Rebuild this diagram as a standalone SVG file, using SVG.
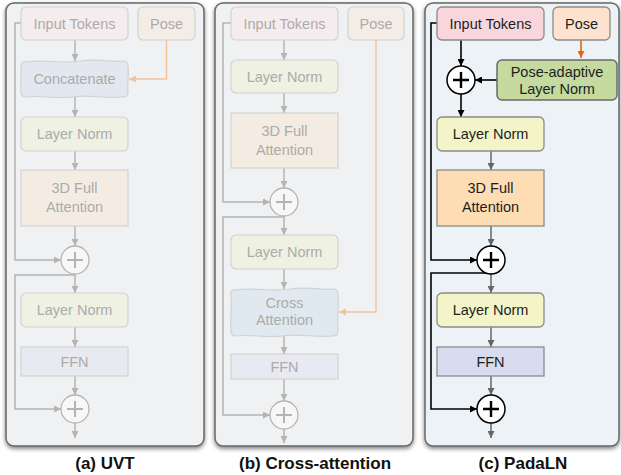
<svg xmlns="http://www.w3.org/2000/svg" width="621" height="475" viewBox="0 0 621 475">
  <defs>
    <filter id="shadow" x="-10%" y="-10%" width="120%" height="120%">
      <feDropShadow dx="0" dy="2" stdDeviation="2" flood-color="#000" flood-opacity="0.5"/>
    </filter>
    <marker id="ah-faded" viewBox="0 0 10 10" refX="10" refY="5" markerWidth="7" markerHeight="7" markerUnits="userSpaceOnUse" orient="auto">
      <path d="M0,0 L10,5 L0,10 z" fill="#b4b4b4"/>
    </marker>
    <marker id="ah-orange-faded" viewBox="0 0 10 10" refX="10" refY="5" markerWidth="7" markerHeight="7" markerUnits="userSpaceOnUse" orient="auto">
      <path d="M0,0 L10,5 L0,10 z" fill="#f3c49c"/>
    </marker>
    <marker id="ah-gray" viewBox="0 0 10 10" refX="10" refY="5" markerWidth="7" markerHeight="7" markerUnits="userSpaceOnUse" orient="auto">
      <path d="M0,0 L10,5 L0,10 z" fill="#666"/>
    </marker>
    <marker id="ah-black" viewBox="0 0 10 10" refX="10" refY="5" markerWidth="7" markerHeight="7" markerUnits="userSpaceOnUse" orient="auto">
      <path d="M0,0 L10,5 L0,10 z" fill="#000"/>
    </marker>
    <marker id="ah-orange" viewBox="0 0 10 10" refX="10" refY="5" markerWidth="7" markerHeight="7" markerUnits="userSpaceOnUse" orient="auto">
      <path d="M0,0 L10,5 L0,10 z" fill="#e0670f"/>
    </marker>
  </defs>
  <style>
    .panel { fill: #f0f1f3; stroke: #666; stroke-width: 1.5; }
    .panel-c { fill: #edf2f6; stroke: #666; stroke-width: 1.5; }
    text { font-family: "Liberation Sans", Arial, sans-serif; font-size: 14.5px; text-anchor: middle; }
    .tf { fill: #ababab; }
    .td { fill: #1e1e1e; }
    .cap { font-size: 17px; font-weight: bold; fill: #111; }
    .bf { stroke: #d2d2d2; stroke-width: 1.2; }
    .bd { stroke: #8a8a8a; stroke-width: 1.3; }
    .lf { fill: none; stroke: #b4b4b4; stroke-width: 1.5; }
    .lfo { fill: none; stroke: #f3c49c; stroke-width: 1.5; }
    .lg { fill: none; stroke: #666; stroke-width: 1.5; }
    .lb { fill: none; stroke: #000; stroke-width: 1.6; }
    .lo { fill: none; stroke: #e0670f; stroke-width: 1.6; }
    .pf circle { fill: #f7f7f7; stroke: #b4b4b4; stroke-width: 1.3; }
    .pf path { stroke: #b4b4b4; stroke-width: 2; fill: none; }
    .pd circle { fill: #fff; stroke: #000; stroke-width: 1.5; }
    .pd path { stroke: #000; stroke-width: 2.4; fill: none; }
  </style>

  <!-- panel frames -->
  <g id="panels">
    <rect class="panel" x="6" y="3" width="198" height="443" rx="8" filter="url(#shadow)"/>
    <rect class="panel" x="215" y="3" width="198" height="443" rx="8" filter="url(#shadow)"/>
    <rect class="panel-c" x="425" y="3" width="194" height="443" rx="8" filter="url(#shadow)"/>
  </g>

  <!-- connectors -->
  <g id="connectors">
    <!-- (a) -->
    <path class="lf" d="M75,40 V61" marker-end="url(#ah-faded)"/>
    <path class="lf" d="M75,97 V117" marker-end="url(#ah-faded)"/>
    <path class="lf" d="M75,151 V170" marker-end="url(#ah-faded)"/>
    <path class="lf" d="M75,226 V246" marker-end="url(#ah-faded)"/>
    <path class="lf" d="M75,274 V293" marker-end="url(#ah-faded)"/>
    <path class="lf" d="M75,327 V347" marker-end="url(#ah-faded)"/>
    <path class="lf" d="M75,376 V395" marker-end="url(#ah-faded)"/>
    <path class="lf" d="M75,423 V438" marker-end="url(#ah-faded)"/>
    <path class="lf" d="M21,23 H15 V260 H61" marker-end="url(#ah-faded)"/>
    <path class="lf" d="M75,275 H15 V409 H61" marker-end="url(#ah-faded)"/>
    <path class="lfo" d="M166.5,40 V79 H129" marker-end="url(#ah-orange-faded)"/>

    <!-- (b) -->
    <path class="lf" d="M284,40 V60" marker-end="url(#ah-faded)"/>
    <path class="lf" d="M284,93 V113" marker-end="url(#ah-faded)"/>
    <path class="lf" d="M284,168 V188" marker-end="url(#ah-faded)"/>
    <path class="lf" d="M284,216 V235" marker-end="url(#ah-faded)"/>
    <path class="lf" d="M284,269 V289" marker-end="url(#ah-faded)"/>
    <path class="lf" d="M284,336 V354" marker-end="url(#ah-faded)"/>
    <path class="lf" d="M284,379 V401" marker-end="url(#ah-faded)"/>
    <path class="lf" d="M284,429 V443" marker-end="url(#ah-faded)"/>
    <path class="lf" d="M231,23 H223 V202 H270" marker-end="url(#ah-faded)"/>
    <path class="lf" d="M284,217 H223 V415 H270" marker-end="url(#ah-faded)"/>
    <path class="lfo" d="M376,40 V312 H339" marker-end="url(#ah-orange-faded)"/>

    <!-- (c) -->
    <path class="lb" d="M461,40 V66" marker-end="url(#ah-black)"/>
    <path class="lb" d="M497,80 H475" marker-end="url(#ah-black)"/>
    <path class="lb" d="M461,94 V117" marker-end="url(#ah-black)"/>
    <path class="lg" d="M491,151 V170" marker-end="url(#ah-gray)"/>
    <path class="lg" d="M491,226 V246" marker-end="url(#ah-gray)"/>
    <path class="lg" d="M491,274 V293" marker-end="url(#ah-gray)"/>
    <path class="lg" d="M491,327 V347" marker-end="url(#ah-gray)"/>
    <path class="lg" d="M491,376 V395" marker-end="url(#ah-gray)"/>
    <path class="lg" d="M491,423 V438" marker-end="url(#ah-gray)"/>
    <path class="lb" d="M437,23 H431 V260 H477" marker-end="url(#ah-black)"/>
    <path class="lb" d="M491,273 H431 V409 H477" marker-end="url(#ah-black)"/>
    <path class="lo" d="M581,40 V58" marker-end="url(#ah-orange)"/>
  </g>

  <!-- (a) UVT -->
  <g id="a-input">
    <rect class="bf" x="21" y="7" width="107" height="33" rx="5" fill="#f5eded"/>
    <text class="tf" x="74.5" y="28.5">Input Tokens</text>
  </g>
  <g id="a-pose">
    <rect class="bf" x="138" y="7" width="57" height="33" rx="5" fill="#f3ede6"/>
    <text class="tf" x="166.5" y="28.5">Pose</text>
  </g>
  <g id="a-concat">
    <path class="bf" fill="#e3e7f0" d="M26,62 C45,59 60,64 80,61 C100,58 115,63 123,61 Q128,61 128,66 C129,75 127,85 128,92 Q128,97 123,97 C105,99 90,94 72,97 C55,99 40,95 26,97 Q21,97 21,92 C20,83 22,72 21,66 Q21,61 26,62 Z"/>
    <text class="tf" x="74.5" y="84">Concatenate</text>
  </g>
  <g id="a-ln1">
    <rect class="bf" x="21" y="117" width="107" height="34" rx="5" fill="#eff1e3"/>
    <text class="tf" x="74.5" y="139">Layer Norm</text>
  </g>
  <g id="a-attn">
    <rect class="bf" x="21" y="170" width="107" height="56" fill="#f4ece2"/>
    <text class="tf" x="74.5" y="193">3D Full</text>
    <text class="tf" x="74.5" y="212">Attention</text>
  </g>
  <g id="a-add1" class="pf">
    <circle cx="75" cy="260" r="14"/>
    <path d="M75,252 V268 M67,260 H83"/>
  </g>
  <g id="a-ln2">
    <rect class="bf" x="21" y="293" width="107" height="34" rx="5" fill="#eff1e3"/>
    <text class="tf" x="74.5" y="315">Layer Norm</text>
  </g>
  <g id="a-ffn">
    <rect class="bf" x="21" y="347" width="107" height="29" fill="#e9eaf1"/>
    <text class="tf" x="74.5" y="366.5">FFN</text>
  </g>
  <g id="a-add2" class="pf">
    <circle cx="75" cy="409" r="14"/>
    <path d="M75,401 V417 M67,409 H83"/>
  </g>
  <text class="cap" x="105" y="469">(a) UVT</text>

  <!-- (b) Cross-attention -->
  <g id="b-input">
    <rect class="bf" x="231" y="7" width="107" height="33" rx="5" fill="#f5eded"/>
    <text class="tf" x="284.5" y="28.5">Input Tokens</text>
  </g>
  <g id="b-pose">
    <rect class="bf" x="348" y="7" width="56" height="33" rx="5" fill="#f3ede6"/>
    <text class="tf" x="376" y="28.5">Pose</text>
  </g>
  <g id="b-ln1">
    <rect class="bf" x="231" y="60" width="107" height="33" rx="5" fill="#eff1e3"/>
    <text class="tf" x="284.5" y="81.5">Layer Norm</text>
  </g>
  <g id="b-attn">
    <rect class="bf" x="231" y="113" width="107" height="55" fill="#f4ece2"/>
    <text class="tf" x="284.5" y="136">3D Full</text>
    <text class="tf" x="284.5" y="155">Attention</text>
  </g>
  <g id="b-add1" class="pf">
    <circle cx="284" cy="202" r="14"/>
    <path d="M284,194 V210 M276,202 H292"/>
  </g>
  <g id="b-ln2">
    <rect class="bf" x="231" y="235" width="107" height="34" rx="5" fill="#eff1e3"/>
    <text class="tf" x="284.5" y="257">Layer Norm</text>
  </g>
  <g id="b-cross">
    <path class="bf" fill="#dfe9ef" d="M236,290 C255,287 270,292 290,289 C310,286 325,291 333,289 Q338,289 338,294 C339,305 337,320 338,331 Q338,336 333,336 C315,338 300,333 282,336 C265,338 250,334 236,336 Q231,336 231,331 C230,320 232,305 231,294 Q231,289 236,290 Z"/>
    <text class="tf" x="284.5" y="308">Cross</text>
    <text class="tf" x="284.5" y="325">Attention</text>
  </g>
  <g id="b-ffn">
    <rect class="bf" x="231" y="354" width="107" height="25" fill="#e9eaf1"/>
    <text class="tf" x="284.5" y="371.5">FFN</text>
  </g>
  <g id="b-add2" class="pf">
    <circle cx="284" cy="415" r="14"/>
    <path d="M284,407 V423 M276,415 H292"/>
  </g>
  <text class="cap" x="315" y="469">(b) Cross-attention</text>

  <!-- (c) PadaLN -->
  <g id="c-input">
    <rect class="bd" x="437" y="7" width="107" height="33" rx="5" fill="#f9d6dc"/>
    <text class="td" x="490.5" y="28.5">Input Tokens</text>
  </g>
  <g id="c-pose">
    <rect class="bd" x="553" y="7" width="57" height="33" rx="5" fill="#fde3cf"/>
    <text class="td" x="581.5" y="28.5">Pose</text>
  </g>
  <g id="c-padaln">
    <rect x="497" y="60" width="120" height="40" rx="5" fill="#c4da9e" stroke="#6a6a6a" stroke-width="1.5"/>
    <text class="td" x="557" y="77">Pose-adaptive</text>
    <text class="td" x="557" y="94">Layer Norm</text>
  </g>
  <g id="c-add0" class="pd">
    <circle cx="461" cy="80" r="14"/>
    <path d="M461,72 V88 M453,80 H469"/>
  </g>
  <g id="c-ln1">
    <rect class="bd" x="437" y="117" width="107" height="34" rx="5" fill="#f3f5c9"/>
    <text class="td" x="490.5" y="139">Layer Norm</text>
  </g>
  <g id="c-attn">
    <rect class="bd" x="437" y="170" width="107" height="56" fill="#fedcb4"/>
    <text class="td" x="490.5" y="193">3D Full</text>
    <text class="td" x="490.5" y="212">Attention</text>
  </g>
  <g id="c-add1" class="pd">
    <circle cx="491" cy="260" r="14"/>
    <path d="M491,252 V268 M483,260 H499"/>
  </g>
  <g id="c-ln2">
    <rect class="bd" x="437" y="293" width="107" height="34" rx="5" fill="#f3f5c9"/>
    <text class="td" x="490.5" y="315">Layer Norm</text>
  </g>
  <g id="c-ffn">
    <rect class="bd" x="437" y="347" width="107" height="29" fill="#d8dcef"/>
    <text class="td" x="490.5" y="366.5">FFN</text>
  </g>
  <g id="c-add2" class="pd">
    <circle cx="491" cy="409" r="14"/>
    <path d="M491,401 V417 M483,409 H499"/>
  </g>
  <text class="cap" x="523" y="469">(c) PadaLN</text>
</svg>
